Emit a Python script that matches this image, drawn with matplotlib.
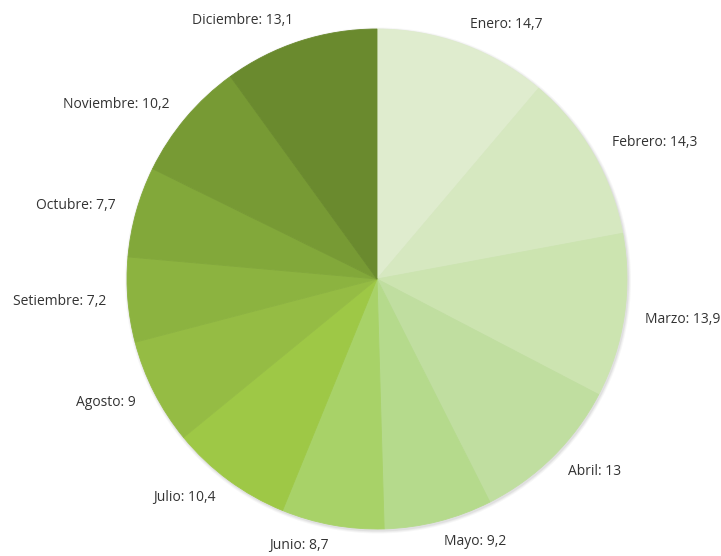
import numpy as np
import matplotlib
matplotlib.use("Agg")
import matplotlib.pyplot as plt
from matplotlib.patches import Circle

meses = ["Enero", "Febrero", "Marzo", "Abril", "Mayo", "Junio",
         "Julio", "Agosto", "Setiembre", "Octubre", "Noviembre", "Diciembre"]
valores = [14.7, 14.3, 13.9, 13.0, 9.2, 8.7, 10.4, 9.0, 7.2, 7.7, 10.2, 13.1]
colores = ["#dfecce", "#d6e8c0", "#cce4b0", "#c0dea0", "#b5da8c", "#a8d268",
           "#9ec846", "#95bc44", "#8cb340", "#82a83a", "#779a34", "#6a8a2e"]

W, H, DPI = 721, 556, 100
cx, cy, R = 377, 279, 250  # centro y radio en px

fig = plt.figure(figsize=(W / DPI, H / DPI), dpi=DPI)
ax = fig.add_axes([0, 0, 1, 1])
ax.axis("off")

# sombra suave bajo el pastel
for i, a in enumerate([0.05, 0.04, 0.03]):
    ax.add_patch(Circle((0.004, -0.006), 1 + 0.004 * (i + 1), color="#000000",
                        alpha=a, lw=0, zorder=0))

wedges, _ = ax.pie(valores, colors=colores, startangle=90, counterclock=False,
                   radius=1, wedgeprops=dict(linewidth=0.6))
for w, c in zip(wedges, colores):
    w.set_edgecolor(c)
    w.set_zorder(2)
ax.set_xlim(-cx / R, (W - cx) / R)
ax.set_ylim(-(H - cy) / R, cy / R)

total = sum(valores)
acum = np.cumsum([0] + valores[:-1])
r_lab = 1.085
for mes, v, a0 in zip(meses, valores, acum):
    ang = np.deg2rad(90 - (a0 + v / 2) / total * 360)
    x, y = r_lab * np.cos(ang), r_lab * np.sin(ang)
    txt = f"{mes}: {v:g}".replace(".", ",")
    ha = "left" if x >= 0 else "right"
    ax.text(x, y, txt, ha=ha, va="center", fontsize=10, color="#333333",
            family="Open Sans")

fig.savefig("out.png", dpi=DPI, facecolor="white")
